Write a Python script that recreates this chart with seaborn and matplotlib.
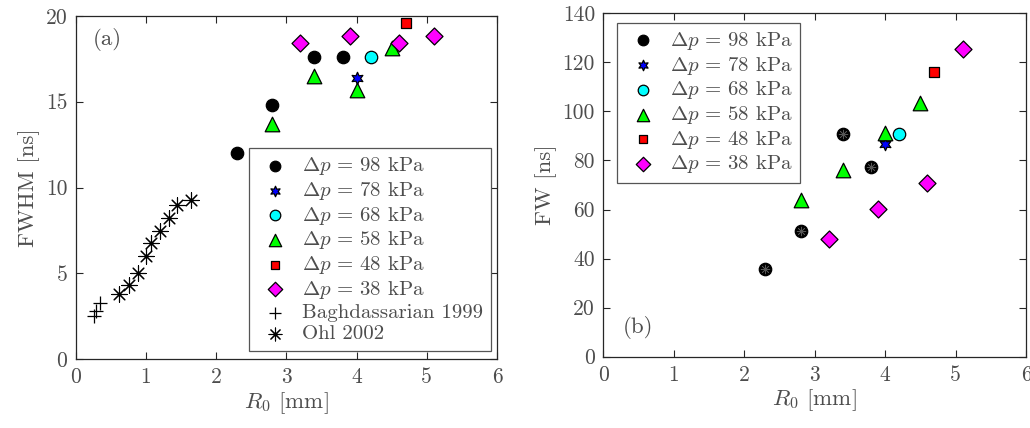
import numpy as np
import pandas as pd
import seaborn as sns
import matplotlib
matplotlib.use("Agg")
import matplotlib.pyplot as plt

# ---------------- data ----------------
labels_dp = [r"$\Delta p \,=\, 98$ kPa", r"$\Delta p \,=\, 78$ kPa", r"$\Delta p \,=\, 68$ kPa",
             r"$\Delta p \,=\, 58$ kPa", r"$\Delta p \,=\, 48$ kPa", r"$\Delta p \,=\, 38$ kPa"]

# panel (a): FWHM [ns]
r98_a = [2.3, 2.8, 3.4, 3.8]
fwhm98 = [12.0, 14.8, 17.6, 17.6]
r78_a = [4.0]
fwhm78 = [16.4]
r68_a = [4.2]
fwhm68 = [17.6]
r58_a = [2.8, 3.4, 4.0, 4.5]
fwhm58 = [13.7, 16.5, 15.7, 18.1]
r48_a = [4.7]
fwhm48 = [19.6]
r38_a = [3.2, 3.9, 4.6, 5.1]
fwhm38 = [18.4, 18.8, 18.4, 18.8]
r_bagh = [0.26, 0.29, 0.35]
fwhm_bagh = [2.55, 2.8, 3.25]
r_ohl = [0.62, 0.76, 0.89, 1.0, 1.07, 1.2, 1.33, 1.44, 1.64]
fwhm_ohl = [3.8, 4.3, 5.0, 6.0, 6.75, 7.5, 8.2, 9.0, 9.3]

# panel (b): FW [ns]
r98_b = [2.3, 2.8, 3.4, 3.8]
fw98 = [35.8, 51.4, 90.8, 77.5]
r78_b = [4.0]
fw78 = [86.7]
r68_b = [4.2]
fw68 = [90.8]
r58_b = [2.8, 3.4, 4.0, 4.5]
fw58 = [63.8, 76.0, 91.3, 103.3]
r48_b = [4.7]
fw48 = [116.0]
r38_b = [3.2, 3.9, 4.6, 5.1]
fw38 = [47.9, 60.3, 71.0, 125.3]

x_ticks = [0, 1, 2, 3, 4, 5, 6]
ya_ticks = [0, 5, 10, 15, 20]
yb_ticks = [0, 20, 40, 60, 80, 100, 120, 140]

# ---------------- style ----------------
sns.set_theme(style="ticks")
plt.rcParams["font.family"] = ["cmr10", "DejaVu Serif"]
plt.rcParams["mathtext.fontset"] = "cm"
plt.rcParams["axes.unicode_minus"] = False
plt.rcParams["axes.formatter.use_mathtext"] = True

TXT = "#4d4d4d"
SPINE = "#262626"

fig = plt.figure(figsize=(10.30, 4.28), dpi=100)
axA = fig.add_axes([0.0735, 0.1605, 0.4090, 0.8025])
axB = fig.add_axes([0.5857, 0.1666, 0.4104, 0.8023])

marker_specs = [
    ("black", "o", 80),
    ("blue", (6, 1, 0), 80),
    ("cyan", "o", 80),
    ("#00ff00", "^", 110),
    ("red", "s", 55),
    ("magenta", "D", 75),
]


def scatter(ax, x, y, color, marker, size, label, edge="black"):
    df = pd.DataFrame({"x": x, "y": y})
    sns.scatterplot(data=df, x="x", y="y", ax=ax, color=color, marker=marker,
                    s=size, edgecolor=edge, linewidth=0.9, label=label, zorder=3)


seriesA = [(r98_a, fwhm98), (r78_a, fwhm78), (r68_a, fwhm68),
           (r58_a, fwhm58), (r48_a, fwhm48), (r38_a, fwhm38)]
seriesB = [(r98_b, fw98), (r78_b, fw78), (r68_b, fw68),
           (r58_b, fw58), (r48_b, fw48), (r38_b, fw38)]

for (x, y), (c, m, s), lab in zip(seriesA, marker_specs, labels_dp):
    scatter(axA, x, y, c, m, s, lab)

dfb = pd.DataFrame({"x": r_bagh, "y": fwhm_bagh})
sns.scatterplot(data=dfb, x="x", y="y", ax=axA, color="black", marker="+",
                s=110, linewidth=0.9, label="Baghdassarian 1999", zorder=3)
dfo = pd.DataFrame({"x": r_ohl, "y": fwhm_ohl})
sns.scatterplot(data=dfo, x="x", y="y", ax=axA, color="black", marker=(8, 2, 0),
                s=120, linewidth=0.8, label="Ohl 2002", zorder=3)

for (x, y), (c, m, s), lab in zip(seriesB, marker_specs, labels_dp):
    scatter(axB, x, y, c, m, s, lab)
dfo98 = pd.DataFrame({"x": r98_b, "y": fw98})
sns.scatterplot(data=dfo98, x="x", y="y", ax=axB, color="#555555", marker=(8, 2, 0),
                s=40, linewidth=0.5, zorder=4, legend=False)

# ---------------- axes formatting ----------------
for ax, yt, ylab in [(axA, ya_ticks, "FWHM [ns]"), (axB, yb_ticks, "FW [ns]")]:
    ax.set_xlim(0, 6)
    ax.set_ylim(yt[0], yt[-1])
    ax.set_xticks(x_ticks)
    ax.set_yticks(yt)
    ax.set_xticklabels([str(t) for t in x_ticks])
    ax.set_yticklabels([str(t) for t in yt])
    ax.tick_params(direction="in", length=5, width=0.8, top=True, right=True,
                   labelsize=15.5, colors=SPINE, labelcolor=TXT, pad=6)
    for sp in ax.spines.values():
        sp.set_visible(True)
        sp.set_color(SPINE)
        sp.set_linewidth(0.9)
    ax.set_xlabel(r"$R_0$ [mm]", fontsize=16.5, color=TXT, labelpad=2)
    ax.set_ylabel(ylab, fontsize=16.5, color=TXT, labelpad=4)

axA.text(0.04, 0.93, "(a)", transform=axA.transAxes, fontsize=16.5, color=TXT,
         ha="left", va="center")
axB.text(0.045, 0.085, "(b)", transform=axB.transAxes, fontsize=16.5, color=TXT,
         ha="left", va="center")

leg_kw = dict(fontsize=15, frameon=True, fancybox=False, framealpha=1,
              edgecolor="#555555", labelspacing=0.13, handletextpad=0.4,
              borderpad=0.35, handlelength=1.8, borderaxespad=0, markerscale=0.85)
legA = axA.legend(loc="lower right", bbox_to_anchor=(0.985, 0.025), **leg_kw)
legB = axB.legend(loc="upper left", bbox_to_anchor=(0.032, 0.973), **leg_kw)
for leg in (legA, legB):
    leg.get_frame().set_linewidth(0.9)
    for t in leg.get_texts():
        t.set_color(TXT)

fig.savefig("out.png", dpi=100)
